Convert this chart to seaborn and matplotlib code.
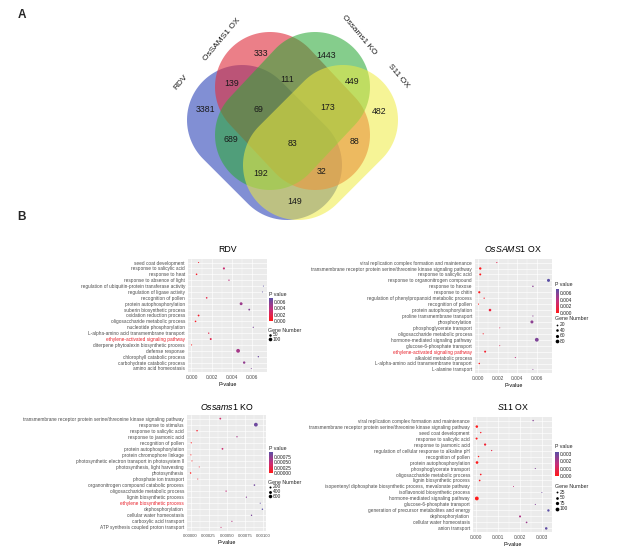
import numpy as np
import pandas as pd
import matplotlib
matplotlib.use("Agg")
import matplotlib.pyplot as plt
import seaborn as sns
from matplotlib.patches import Polygon
from matplotlib.colors import LinearSegmentedColormap, Normalize
from matplotlib.cm import ScalarMappable

# ---------------- Venn data ----------------
venn_names = ["RDV", "OsSAMS1 OX", "Ossams1 KO", "S11 OX"]
venn_region_keys = ["R", "O", "K", "S", "RO", "OK", "KS", "ROK", "OKS",
                    "ROKS", "RK", "OS", "RKS", "ROS", "RS"]
venn_counts = [3381, 333, 1443, 482, 139, 111, 449, 69, 173,
               83, 689, 88, 192, 32, 149]

# ---------------- GO enrichment data ----------------
rdv_terms = ["seed coat development", "response to salicylic acid", "response to heat",
             "response to absence of light",
             "regulation of ubiquitin-protein transferase activity",
             "regulation of ligase activity", "recognition of pollen",
             "protein autophosphorylation", "suberin biosynthetic process",
             "oxidation reduction process", "oligosaccharide metabolic process",
             "nucleotide phosphorylation", "L-alpha-amino acid transmembrane transport",
             "ethylene-activated signaling pathway",
             "diterpene phytoalexin biosynthetic process", "defense response",
             "chlorophyll catabolic process", "carbohydrate catabolic process",
             "amino acid homeostasis"]
rdv_p = [0.0007, 0.0032, 0.0005, 0.0037, 0.0071, 0.0070, 0.0015, 0.0049, 0.0057,
         0.0007, 0.0004, 0.0061, 0.0017, 0.0019, 0.00001, 0.0046, 0.0066, 0.0052, 0.0059]
rdv_genes = [10, 35, 20, 15, 8, 8, 20, 65, 25, 25, 20, 12, 15, 30, 10, 110, 15, 45, 8]

ox_terms = ["viral replication complex formation and maintenance",
            "transmembrane receptor protein serine/threonine kinase signaling pathway",
            "response to salicylic acid", "response to organonitrogen compound",
            "response to hexose", "response to chitin",
            "regulation of phenylpropanoid metabolic process", "recognition of pollen",
            "protein autophosphorylation", "proline transmembrane transport",
            "phosphorylation", "phosphoglycerate transport",
            "oligosaccharide metabolic process", "hormone-mediated signaling pathway",
            "glucose-6-phosphate transport", "ethylene-activated signaling pathway",
            "alkaloid metabolic process", "L-alpha-amino acid transmembrane transport",
            "L-alanine transport"]
ox_p = [0.0019, 0.0002, 0.0002, 0.0072, 0.0056, 0.0001, 0.0006, 0.00002, 0.0012,
        0.0056, 0.0055, 0.0022, 0.0005, 0.0060, 0.0022, 0.0007, 0.0038, 0.0001, 0.0056]
ox_genes = [10, 35, 25, 55, 15, 30, 12, 10, 40, 10, 55, 8, 10, 85, 8, 25, 10, 15, 8]

ko_terms = ["transmembrane receptor protein serine/threonine kinase signaling pathway",
            "response to stimulus", "response to salicylic acid",
            "response to jasmonic acid", "recognition of pollen",
            "protein autophosphorylation", "protein chromophore linkage",
            "photosynthetic electron transport in photosystem II",
            "photosynthesis, light harvesting", "photosynthesis",
            "phosphate ion transport", "organonitrogen compound catabolic process",
            "oligosaccharide metabolic process", "lignin biosynthetic process",
            "ethylene biosynthetic process", "dephosphorylation",
            "cellular water homeostasis", "carboxylic acid transport",
            "ATP synthesis coupled proton transport"]
ko_p = [0.00041, 0.00090, 0.00009, 0.00064, 0.00001, 0.00044, 0.000005, 0.00002,
        0.00012, 0.000001, 0.00010, 0.00088, 0.00049, 0.00077, 0.00096, 0.00099,
        0.00084, 0.00057, 0.00042]
ko_genes = [150, 700, 100, 80, 60, 150, 50, 50, 40, 100, 40, 120, 80, 70, 50, 100, 90, 60, 50]

s11_terms = ["viral replication complex formation and maintenance",
             "transmembrane receptor protein serine/threonine kinase signaling pathway",
             "seed coat development", "response to salicylic acid",
             "response to jasmonic acid",
             "regulation of cellular response to alkaline pH", "recognition of pollen",
             "protein autophosphorylation", "phosphoglycerate transport",
             "oligosaccharide metabolic process", "lignin biosynthetic process",
             "isopentenyl diphosphate biosynthetic process, mevalonate pathway",
             "isoflavonoid biosynthetic process", "hormone-mediated signaling pathway",
             "glucose-6-phosphate transport",
             "generation of precursor metabolites and energy", "dephosphorylation",
             "cellular water homeostasis", "anion transport"]
s11_p = [0.0026, 0.00002, 0.0002, 0.00001, 0.0004, 0.0007, 0.0001, 0.00003, 0.0027,
         0.0002, 0.00015, 0.0017, 0.0030, 0.00002, 0.0027, 0.0033, 0.0020, 0.0023, 0.0032]
s11_genes = [15, 45, 15, 30, 35, 12, 15, 50, 10, 20, 20, 8, 8, 100, 10, 40, 30, 20, 45]

highlight_terms = ["ethylene-activated signaling pathway", "ethylene biosynthetic process"]

# ---------------- style ----------------
sns.set_theme(style="white")
plt.rcParams["font.family"] = ["Liberation Sans", "DejaVu Sans"]
plt.rcParams["mathtext.fontset"] = "custom"
plt.rcParams["mathtext.it"] = "Liberation Sans:italic"
plt.rcParams["mathtext.rm"] = "Liberation Sans"

W, H = 617, 557
fig = plt.figure(figsize=(W / 100, H / 100), dpi=100)
fig.patch.set_facecolor("white")


def frac(x0, y0, x1, y1):
    return [x0 / W, 1 - y1 / H, (x1 - x0) / W, (y1 - y0) / H]


cmap = LinearSegmentedColormap.from_list("pv", ["#ff1a1a", "#c42f7c", "#5b4fa5"])
SMIN, SMAX = 0.5, 7.5


def size_of(v, gmin, gmax):
    return SMIN + (v - gmin) / (gmax - gmin) * (SMAX - SMIN)


panels = [
    dict(terms=rdv_terms, p=rdv_p, g=rdv_genes, ax=(188, 259, 267, 372),
         title=r"RDV", tx=228, ty=249, xt=[0, 0.002, 0.004, 0.006], fmt="%.3f", xfs=3.5,
         cb=(269, 298, 273, 321), cbt=[0, 0.002, 0.004, 0.006], cbf="%.3f",
         ptitle=(269, 294), gtitle=(268, 330), gvals=[50, 100], gy0=335, gdy=4.3),
    dict(terms=ox_terms, p=ox_p, g=ox_genes, ax=(475, 259, 552, 373),
         title=r"$\mathit{OsSAMS1}$ OX", tx=513, ty=249, xt=[0, 0.002, 0.004, 0.006],
         fmt="%.3f", xfs=3.5, cb=(556, 289, 559, 313), cbt=[0, 0.002, 0.004, 0.006],
         cbf="%.3f", ptitle=(555, 284), gtitle=(555, 319), gvals=[20, 40, 60, 80],
         gy0=325, gdy=5.4),
    dict(terms=ko_terms, p=ko_p, g=ko_genes, ax=(187, 415, 266, 531),
         title=r"$\mathit{Ossams1}$ KO", tx=227, ty=407,
         xt=[0, 0.00025, 0.0005, 0.00075, 0.001], fmt="%.5f", xfs=3.1,
         cb=(269, 452, 273, 473), cbt=[0, 0.00025, 0.0005, 0.00075], cbf="%.5f",
         ptitle=(269, 448), gtitle=(268, 482), gvals=[200, 400, 600], gy0=487, gdy=4.5),
    dict(terms=s11_terms, p=s11_p, g=s11_genes, ax=(473, 417, 552, 532),
         title=r"$\mathit{S11}$ OX", tx=513, ty=407, xt=[0, 0.001, 0.002, 0.003],
         fmt="%.3f", xfs=3.5, cb=(555, 452, 559, 476), cbt=[0, 0.001, 0.002, 0.003],
         cbf="%.3f", ptitle=(555, 447), gtitle=(555, 486), gvals=[25, 50, 75, 100],
         gy0=492, gdy=5.6),
]

legend_items = []
for P in panels:
    terms, pv, gn = P["terms"], P["p"], P["g"]
    n = len(terms)
    df = pd.DataFrame({"term": terms, "ypos": np.arange(n), "p": pv, "genes": gn})
    pmin, pmax = min(pv), max(pv)
    gmin, gmax = min(gn), max(gn)
    ax = fig.add_axes(frac(*P["ax"]))
    ax.set_facecolor("#EBEBEB")
    sns.scatterplot(data=df, x="p", y="ypos", hue="p", size="genes", palette=cmap,
                    hue_norm=(pmin, pmax), sizes=(SMIN, SMAX), size_norm=(gmin, gmax),
                    linewidth=0, legend=False, ax=ax, zorder=3)
    ax.set_ylim(n - 1 + 0.6, -0.6)
    ax.set_yticks(range(n), labels=terms)
    xt = P["xt"]
    ax.set_xticks(xt, labels=[P["fmt"] % t for t in xt])
    ax.set_xticks([(a + b) / 2 for a, b in zip(xt[:-1], xt[1:])], minor=True)
    ax.grid(True, which="major", color="white", linewidth=0.45)
    ax.grid(True, which="minor", axis="x", color="white", linewidth=0.22)
    ax.set_axisbelow(True)
    for s in ax.spines.values():
        s.set_visible(False)
    ax.tick_params(axis="both", which="major", length=1.2, width=0.35, color="#333333",
                   labelsize=3.45, labelcolor="#4d4d4d", pad=1)
    ax.tick_params(axis="x", labelsize=P["xfs"])
    ax.tick_params(which="minor", length=0)
    for lab in ax.get_yticklabels():
        if lab.get_text() in highlight_terms:
            lab.set_color("#e8202a")
    ax.set_ylabel("")
    ax.set_xlabel("P-value", fontsize=3.9, labelpad=1.5, color="black")
    fig.text(P["tx"] / W, 1 - P["ty"] / H, P["title"], fontsize=6.3, ha="center",
             va="center", color="black")
    # colour bar
    cax = fig.add_axes(frac(*P["cb"]))
    cb = fig.colorbar(ScalarMappable(norm=Normalize(pmin, pmax), cmap=cmap), cax=cax)
    cb.outline.set_visible(False)
    cb.set_ticks(P["cbt"])
    cb.ax.set_yticklabels([P["cbf"] % t for t in P["cbt"]])
    cax.tick_params(length=0, labelsize=3.5, pad=0.8, colors="#222222")
    legend_items.append((P, gmin, gmax))

# ---------------- overlay (Venn, legends, panel letters) ----------------
ov = fig.add_axes([0, 0, 1, 1])
ov.set_xlim(0, W)
ov.set_ylim(H, 0)
ov.axis("off")
ov.patch.set_alpha(0)

for P, gmin, gmax in legend_items:
    ov.text(P["ptitle"][0], P["ptitle"][1], "P value", fontsize=3.8, va="center", ha="left")
    ov.text(P["gtitle"][0], P["gtitle"][1], "Gene Number", fontsize=3.8, va="center",
            ha="left")
    for i, v in enumerate(P["gvals"]):
        yy = P["gy0"] + i * P["gdy"]
        ov.scatter([P["gtitle"][0] + 2], [yy], s=size_of(v, gmin, gmax), color="black",
                   linewidths=0)
        ov.text(P["gtitle"][0] + 4.5, yy, str(v), fontsize=3.5, va="center", ha="left")


# Venn capsule shapes (layout in pixel space, y downward)
def capsule(c1, c2, r, n=60):
    c1, c2 = np.asarray(c1, float), np.asarray(c2, float)
    th = np.arctan2(c2[1] - c1[1], c2[0] - c1[0])
    a2 = np.linspace(th - np.pi / 2, th + np.pi / 2, n)
    a1 = np.linspace(th + np.pi / 2, th + 3 * np.pi / 2, n)
    pts2 = np.column_stack([c2[0] + r * np.cos(a2), c2[1] + r * np.sin(a2)])
    pts1 = np.column_stack([c1[0] + r * np.cos(a1), c1[1] + r * np.sin(a1)])
    return np.vstack([pts2, pts1])


R_CAP = 55
shapes = [
    ((242, 120), (287, 165), "#2e45b8", 0.6),    # RDV
    ((270, 87), (315, 135), "#e0303f", 0.62),    # OsSAMS1 OX
    ((315, 87), (270, 135), "#2eaa3a", 0.58),    # Ossams1 KO
    ((343, 120), (298, 165), "#f0ec40", 0.55),   # S11 OX
]
for (c1, c2, col, al) in shapes:
    ov.add_patch(Polygon(capsule(c1, c2, R_CAP), closed=True, facecolor=col, alpha=al,
                         edgecolor="none"))

region_pos = {"R": (205, 109), "O": (261, 53), "K": (326, 55), "S": (379, 112),
              "RO": (232, 83), "OK": (287, 79), "KS": (352, 81), "ROK": (258, 109),
              "OKS": (328, 107), "ROKS": (293, 143), "RK": (231, 140), "OS": (354, 141),
              "RKS": (261, 173), "ROS": (322, 171), "RS": (295, 202)}
for k, v in zip(venn_region_keys, venn_counts):
    x, y = region_pos[k]
    ov.text(x, y, str(v), fontsize=6.3, ha="center", va="center", color="#1a1a1a")

label_pos = [(181, 82, 50), (222, 40, 50), (359, 35, -50), (398, 76, -50)]
for name, (x, y, r) in zip(venn_names, label_pos):
    ov.text(x, y, name, fontsize=6.0, ha="center", va="center", rotation=r,
            rotation_mode="anchor", color="#1a1a1a")

ov.text(22, 15, "A", fontsize=8.5, fontweight="bold", ha="center", va="center")
ov.text(22, 217, "B", fontsize=8.5, fontweight="bold", ha="center", va="center")

fig.savefig("out.png", dpi=100, facecolor="white")
